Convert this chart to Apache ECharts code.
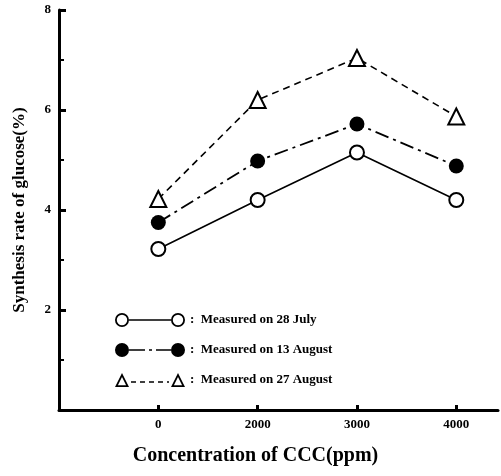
<!DOCTYPE html>
<html>
<head>
<meta charset="utf-8">
<script src="https://cdn.jsdelivr.net/npm/echarts@6/dist/echarts.min.js"></script>
<style>
	html, body { margin: 0; padding: 0; background: #fff; }
	#chart { width: 501px; height: 476px; }
</style>
</head>
<body>
<div id="chart"></div>
<script>
	//数据
	var concLabels = ['0', '2000', '3000', '4000'];
	var july28 = [3.22, 4.2, 5.15, 4.2];
	var aug13 = [3.75, 4.98, 5.72, 4.88];
	var aug27 = [4.22, 6.2, 7.04, 5.87];
	var seriesNames = ['Measured on 28 July', 'Measured on 13 August', 'Measured on 27 August'];

	var serif = 'Liberation Serif';

	//图例图标 (两个符号中间连线)
	var iconOpen = 'path://M0,7A7,7,0,1,1,14,7A7,7,0,1,1,0,7Z M1.8,7A5.2,5.2,0,1,0,12.2,7A5.2,5.2,0,1,0,1.8,7Z ' +
		'M14,6.3L56,6.3L56,7.7L14,7.7Z ' +
		'M56,7A7,7,0,1,1,70,7A7,7,0,1,1,56,7Z M57.8,7A5.2,5.2,0,1,0,68.2,7A5.2,5.2,0,1,0,57.8,7Z';
	var iconFilled = 'path://M0,7A7,7,0,1,1,14,7A7,7,0,1,1,0,7Z ' +
		'M14,6.2L30,6.2L30,7.8L14,7.8Z M34,6.2L37,6.2L37,7.8L34,7.8Z M41,6.2L56,6.2L56,7.8L41,7.8Z ' +
		'M56,7A7,7,0,1,1,70,7A7,7,0,1,1,56,7Z';
	var iconTri = 'path://M0,14L7,0L14,14Z M2.9,12.2L11.1,12.2L7,4.0Z ' +
		'M16,8.3L21,8.3L21,9.7L16,9.7Z M25,8.3L30,8.3L30,9.7L25,9.7Z M34,8.3L39,8.3L39,9.7L34,9.7Z M43,8.3L48,8.3L48,9.7L43,9.7Z M52,8.3L54,8.3L54,9.7L52,9.7Z ' +
		'M56,14L63,0L70,14Z M58.9,12.2L67.1,12.2L63,4.0Z';

	function toPoints (arr) {
		return arr.map(function (v, i) { return [i, v]; });
	}

	var myChart = echarts.init(document.getElementById('chart'));
	var option = {
		backgroundColor: '#fff',
		animation: false,
		grid: { left: 59, right: 3, top: 10, bottom: 66, containLabel: false, outerBoundsMode: 'none' },
		legend: {
			orient: 'vertical',
			left: 110,
			top: 308,
			itemWidth: 70,
			itemHeight: 14,
			itemGap: 16,
			selectedMode: false,
			itemStyle: { color: '#000', borderWidth: 0, borderColor: 'transparent' },
			textStyle: { fontFamily: serif, fontWeight: 'bold', fontSize: 13, color: '#000' },
			formatter: function (name) { return ':  ' + name; },
			data: [
				{ name: seriesNames[0], icon: iconOpen },
				{ name: seriesNames[1], icon: iconFilled },
				{ name: seriesNames[2], icon: iconTri }
			]
		},
		xAxis: {
			type: 'value',
			min: -1,
			max: 3.42,
			interval: 1,
			name: 'Concentration of CCC(ppm)',
			nameLocation: 'middle',
			nameGap: 36,
			nameTextStyle: { fontFamily: serif, fontWeight: 'bold', fontSize: 20, color: '#000', padding: [0, 46, 0, 0] },
			axisLine: { onZero: false, lineStyle: { color: '#000', width: 3 } },
			axisTick: { inside: true, length: 5, lineStyle: { color: '#000', width: 3 } },
			axisLabel: {
				margin: 8,
				showMaxLabel: false,
				fontFamily: serif, fontWeight: 'bold', fontSize: 13, color: '#000',
				formatter: function (v) {
					if (v < 0 || Math.abs(v - Math.round(v)) > 1e-6) return '';
					return concLabels[Math.round(v)];
				}
			},
			splitLine: { show: false }
		},
		yAxis: {
			type: 'value',
			min: 0,
			max: 8,
			interval: 2,
			name: 'Synthesis rate of glucose(%)',
			nameLocation: 'middle',
			nameGap: 31,
			nameTextStyle: { fontFamily: serif, fontWeight: 'bold', fontSize: 17, color: '#000' },
			axisLine: { onZero: false, lineStyle: { color: '#000', width: 3 } },
			axisTick: { inside: true, length: 7, lineStyle: { color: '#000', width: 3 } },
			minorTick: { show: true, splitNumber: 2, length: 5, lineStyle: { color: '#000', width: 2 } },
			axisLabel: {
				margin: 8,
				fontFamily: serif, fontWeight: 'bold', fontSize: 13, color: '#000',
				formatter: function (v) { return v === 0 ? '' : String(v); }
			},
			splitLine: { show: false }
		},
		series: [
			{
				name: seriesNames[0],
				type: 'line',
				data: toPoints(july28),
				symbol: 'emptyCircle',
				symbolSize: 14,
				itemStyle: { color: '#000', borderWidth: 2 },
				lineStyle: { color: '#000', width: 1.6, type: 'solid' }
			},
			{
				name: seriesNames[1],
				type: 'line',
				data: toPoints(aug13),
				symbol: 'circle',
				symbolSize: 15,
				itemStyle: { color: '#000' },
				lineStyle: { color: '#000', width: 1.8, type: [14, 5, 3, 5] }
			},
			{
				name: seriesNames[2],
				type: 'line',
				data: toPoints(aug27),
				symbol: 'emptyTriangle',
				symbolSize: 16,
				itemStyle: { color: '#000', borderWidth: 2.2 },
				lineStyle: { color: '#000', width: 1.6, type: [7, 5] }
			}
		]
	};
	myChart.setOption(option);
</script>
</body>
</html>
